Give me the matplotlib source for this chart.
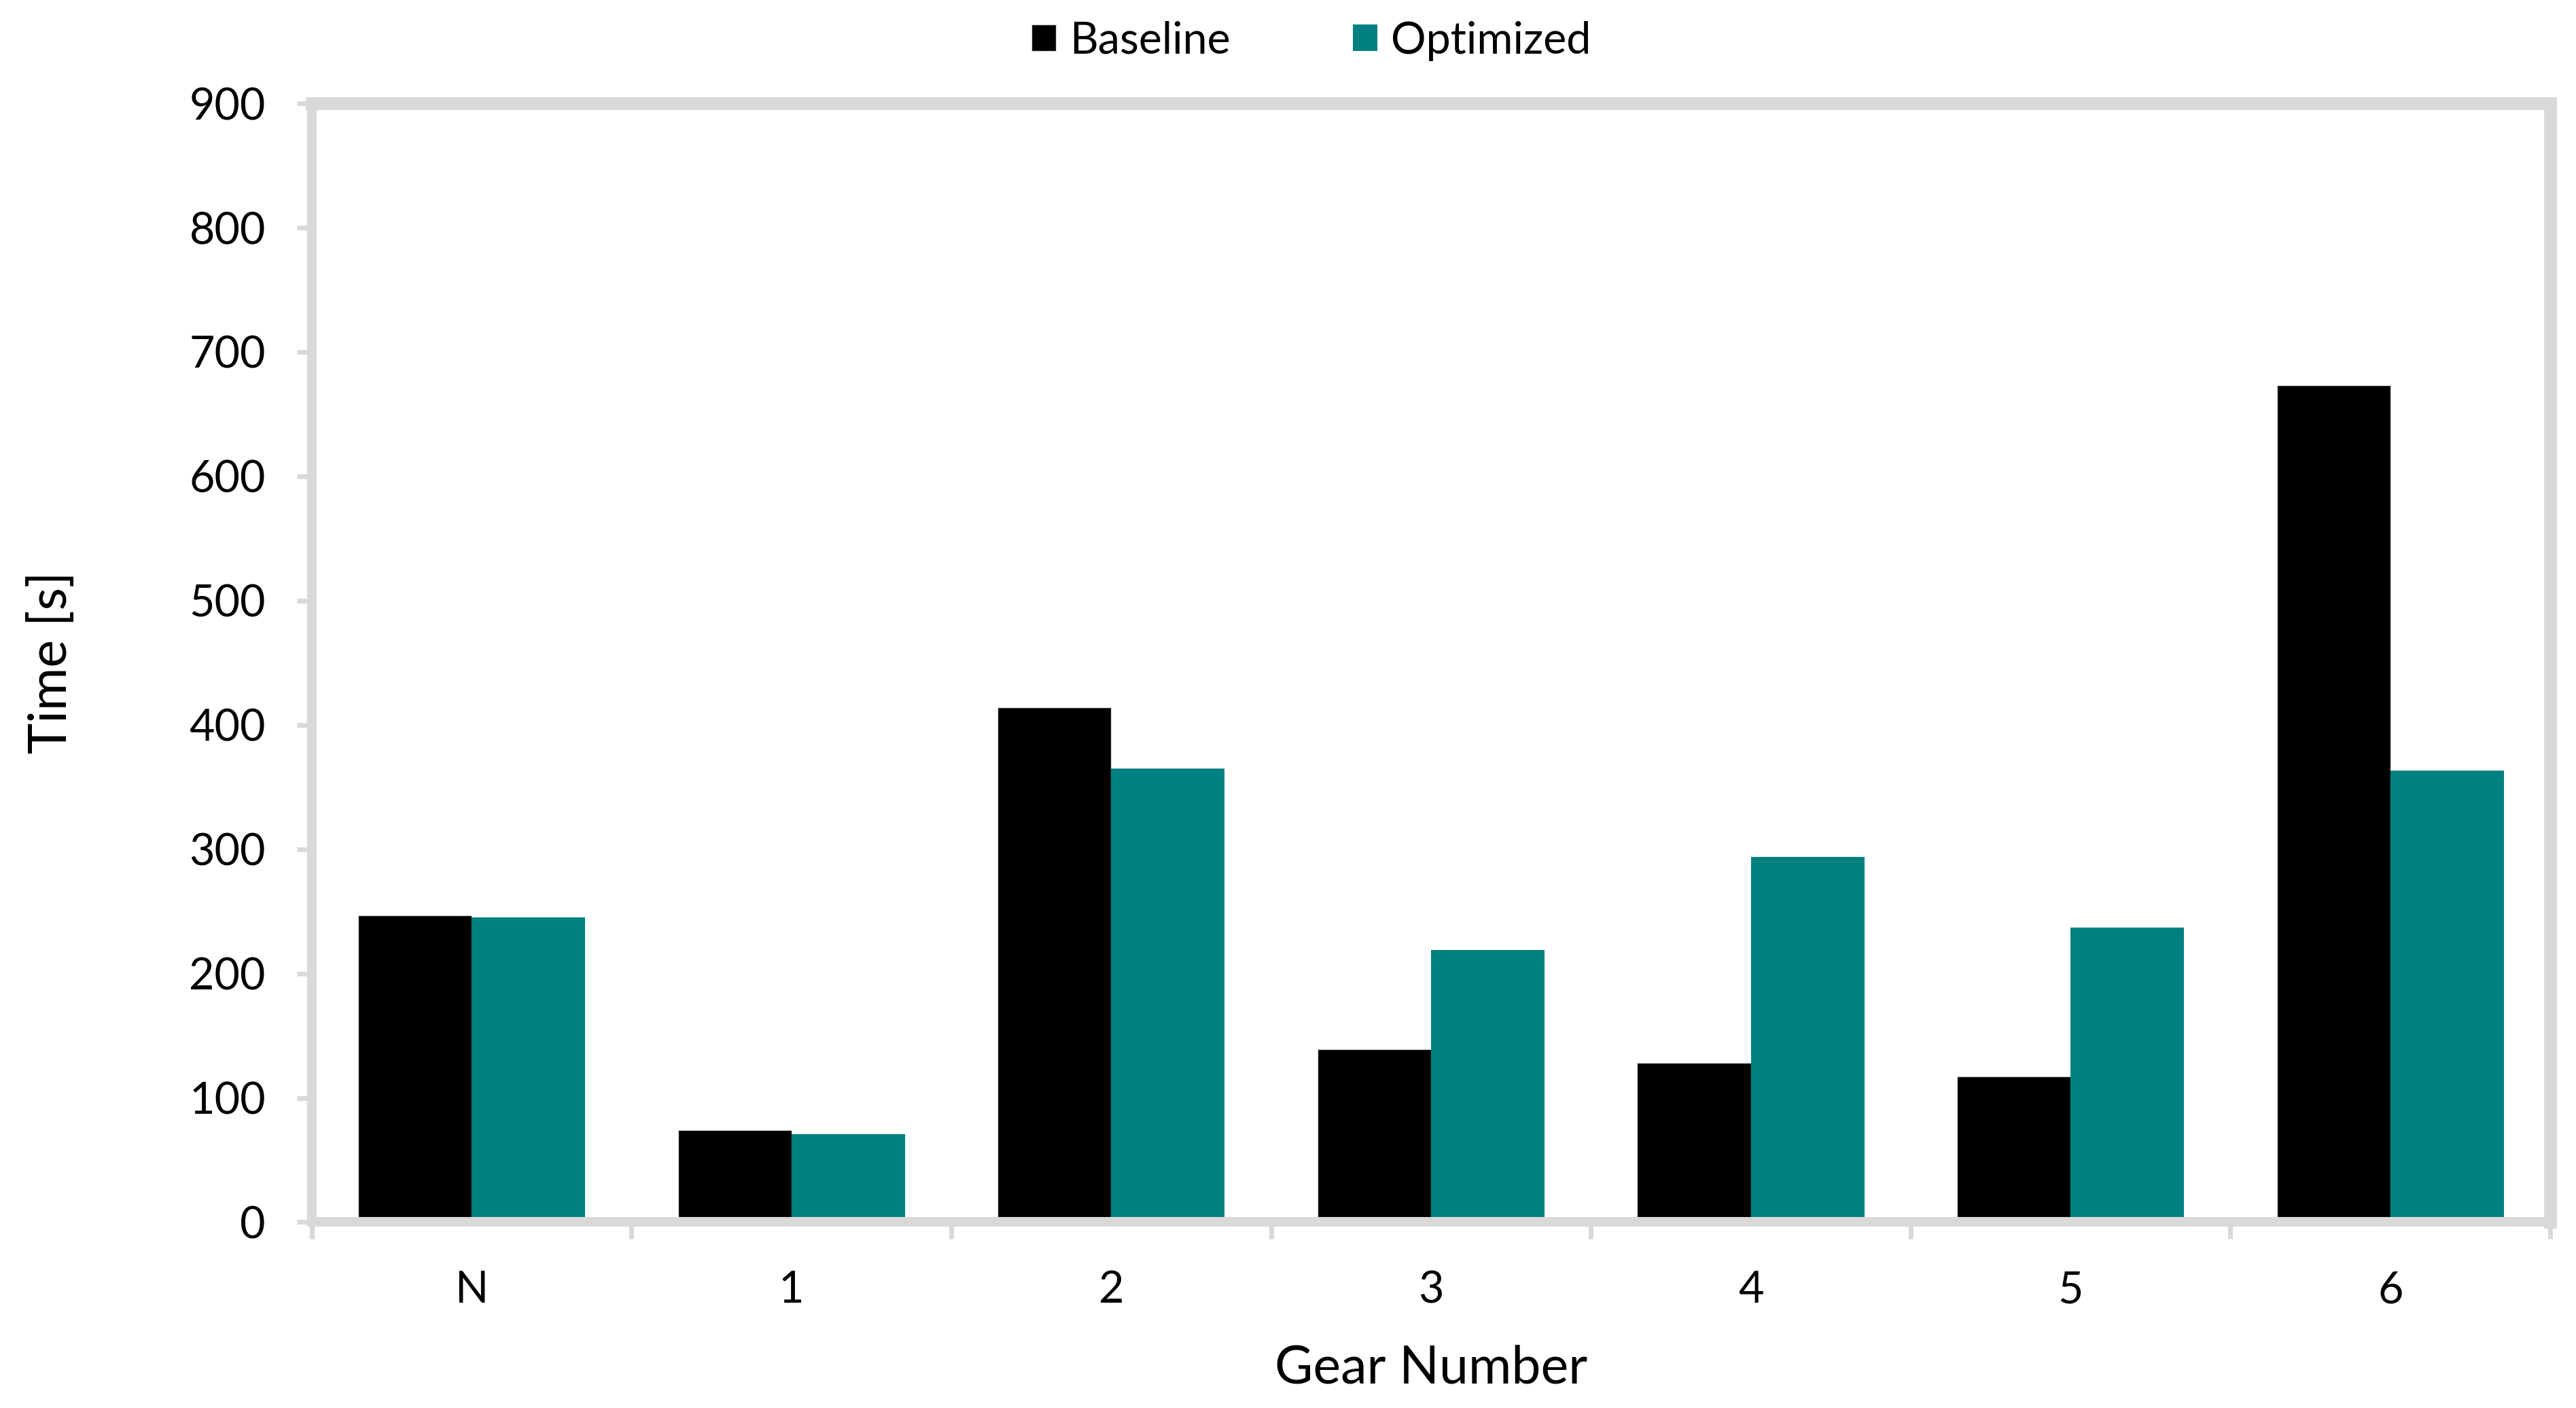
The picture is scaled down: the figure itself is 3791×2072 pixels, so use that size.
import matplotlib
matplotlib.use("Agg")
import numpy as np
import matplotlib.pyplot as plt
from matplotlib.patches import Patch

# data
gears = ["N", "1", "2", "3", "4", "5", "6"]
baseline = [247, 74, 414, 139, 128, 117, 673]
optimized = [245, 71, 365, 219, 294, 237, 363]

GRAY = "#D9D9D9"
TEAL = "#008080"

plt.rcParams["font.family"] = ["Lato", "DejaVu Sans"]

fig = plt.figure(figsize=(3791 / 300, 2072 / 300), dpi=300)
ax = fig.add_axes([0.121, 0.132, 0.869, 0.7946])

x = np.arange(len(gears))
w = 0.355
ax.bar(x - w / 2, baseline, w, color="black", edgecolor=GRAY, linewidth=0.3, label="Baseline")
ax.bar(x + w / 2, optimized, w, color=TEAL, linewidth=0, label="Optimized")

ax.set_xlim(-0.5, len(gears) - 0.5)
ax.set_ylim(0, 900)
ax.set_yticks(np.arange(0, 901, 100))

# category labels centred, small ticks between categories
ax.set_xticks(x)
ax.set_xticklabels(gears)
ax.set_xticks(np.arange(-0.5, len(gears)), minor=True)
ax.tick_params(axis="x", which="major", length=0, pad=17, labelsize=15.5)
ax.tick_params(axis="x", which="minor", length=6, width=1.7, color=GRAY)
ax.tick_params(axis="y", length=5.3, width=1.7, color=GRAY, pad=11, labelsize=15.5)

for side in ["left", "bottom"]:
    ax.spines[side].set_color(GRAY)
    ax.spines[side].set_linewidth(3.4)
for side in ["top", "right"]:
    ax.spines[side].set_color(GRAY)
    ax.spines[side].set_linewidth(4.5)

ax.set_xlabel("Gear Number", fontsize=18.5, labelpad=12)
ax.set_ylabel("Time [s]", fontsize=18.5, labelpad=40)

handles = [Patch(facecolor="black", edgecolor=GRAY, linewidth=0.3), Patch(facecolor=TEAL)]
fig.legend(handles, ["Baseline", "Optimized"], loc="center", bbox_to_anchor=(0.509, 0.971),
           ncol=2, frameon=False, fontsize=15.5, handlelength=0.56, handleheight=0.56,
           handletextpad=0.3, columnspacing=2.8)

fig.savefig("out.png", dpi=300)
